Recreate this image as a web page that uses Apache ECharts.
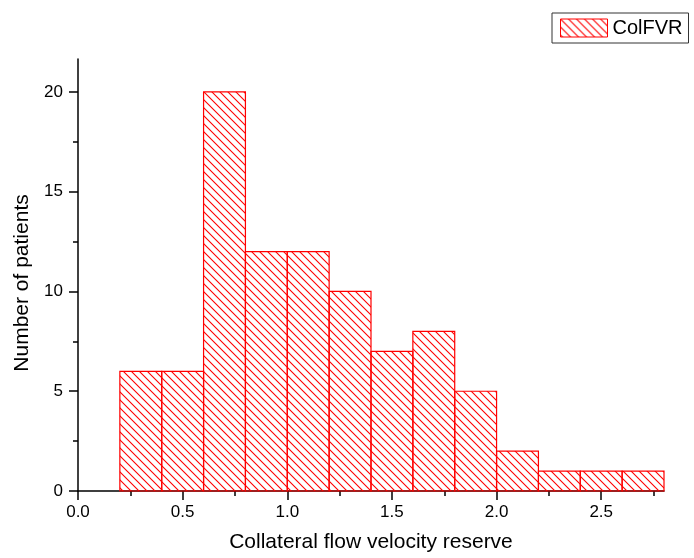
<!DOCTYPE html>
<html>
<head>
<meta charset="utf-8">
<script src="https://cdn.jsdelivr.net/npm/echarts@6/dist/echarts.min.js"></script>
<style>
html,body{margin:0;padding:0;background:#fff;}
#chart{width:694px;height:558px;}
</style>
</head>
<body>
<div id="chart"></div>
<script>
// Data
const binEdges = [0.2, 0.4, 0.6, 0.8, 1.0, 1.2, 1.4, 1.6, 1.8, 2.0, 2.2, 2.4, 2.6, 2.8];
const counts = [6, 6, 20, 12, 12, 10, 7, 8, 5, 2, 1, 1, 1];
const xTickValues = [0, 0.5, 1.0, 1.5, 2.0, 2.5];
const xMinorTickValues = [0.25, 0.75, 1.25, 1.75, 2.25, 2.75];
const yTickValues = [0, 5, 10, 15, 20];
const yMinorTickValues = [2.5, 7.5, 12.5, 17.5];
const seriesName = 'ColFVR';
const xTitle = 'Collateral flow velocity reserve';
const yTitle = 'Number of patients';

// Hatch pattern (diagonal "\\" lines)
function makeHatch() {
  const s = 8;
  const c = document.createElement('canvas');
  c.width = s; c.height = s;
  const ctx = c.getContext('2d');
  ctx.strokeStyle = '#ff0000';
  ctx.lineWidth = 1.1;
  ctx.beginPath();
  ctx.moveTo(-1, -1); ctx.lineTo(s + 1, s + 1);
  ctx.moveTo(-1, s - 1); ctx.lineTo(1, s + 1);
  ctx.moveTo(s - 1, -1); ctx.lineTo(s + 1, 1);
  ctx.stroke();
  return c;
}
const hatch = { image: makeHatch(), repeat: 'repeat' };

const histData = counts.map((v, i) => [binEdges[i], binEdges[i + 1], v]);

const chart = echarts.init(document.getElementById('chart'), null, { renderer: 'canvas' });
const font = "'Liberation Sans', Arial, sans-serif";

chart.setOption({
  animation: false,
  backgroundColor: '#fff',
  grid: { left: 78, right: 30, top: 59, bottom: 66, containLabel: false },
  legend: {
    data: [{ name: seriesName, icon: 'rect' }],
    left: 552, top: 13,
    padding: [5, 6, 5, 8],
    borderColor: '#333', borderWidth: 1,
    itemWidth: 47, itemHeight: 18, itemGap: 5,
    itemStyle: { color: hatch, borderColor: '#ff0000', borderWidth: 1 },
    textStyle: { fontFamily: font, fontSize: 20, color: '#000' }
  },
  xAxis: [{
    type: 'value', min: 0, max: 2.8,
    name: xTitle, nameLocation: 'middle', nameGap: 41,
    nameTextStyle: { fontFamily: font, fontSize: 21, color: '#000' },
    axisLine: { show: true, onZero: false, lineStyle: { color: '#000', width: 1.5 } },
    axisTick: { show: true, inside: false, length: 9, customValues: xTickValues, lineStyle: { color: '#000', width: 1.5 } },
    axisLabel: { customValues: xTickValues, margin: 13, fontFamily: font, fontSize: 17, color: '#000',
      formatter: v => Number(v).toFixed(1) },
    splitLine: { show: false }
  }, {
    type: 'value', min: 0, max: 2.8, position: 'bottom',
    axisLine: { show: false },
    axisTick: { show: true, length: 5, customValues: xMinorTickValues, lineStyle: { color: '#000', width: 1.5 } },
    axisLabel: { show: false },
    splitLine: { show: false }
  }],
  yAxis: [{
    type: 'value', min: 0, max: 21.65,
    name: yTitle, nameLocation: 'middle', nameGap: 44,
    nameTextStyle: { fontFamily: font, fontSize: 21, color: '#000', padding: [0, 16, 0, 0] },
    axisLine: { show: true, onZero: false, lineStyle: { color: '#000', width: 1.5 } },
    axisTick: { show: true, inside: false, length: 9, customValues: yTickValues, lineStyle: { color: '#000', width: 1.5 } },
    axisLabel: { customValues: yTickValues, margin: 15, fontFamily: font, fontSize: 17, color: '#000' },
    splitLine: { show: false }
  }, {
    type: 'value', min: 0, max: 21.65, position: 'left',
    axisLine: { show: false },
    axisTick: { show: true, length: 5, customValues: yMinorTickValues, lineStyle: { color: '#000', width: 1.5 } },
    axisLabel: { show: false },
    splitLine: { show: false }
  }],
  series: [{
    name: seriesName,
    type: 'custom',
    xAxisIndex: 0, yAxisIndex: 0,
    itemStyle: { color: hatch, borderColor: '#ff0000', borderWidth: 1 },
    encode: { x: [0, 1], y: 2 },
    data: histData,
    renderItem: function (params, api) {
      const p0 = api.coord([api.value(0), api.value(2)]);
      const p1 = api.coord([api.value(1), 0]);
      return {
        type: 'rect',
        shape: { x: p0[0], y: p0[1], width: p1[0] - p0[0], height: p1[1] - p0[1] },
        style: { fill: hatch, stroke: '#ff0000', lineWidth: 1.2 }
      };
    }
  }]
});
</script>
</body>
</html>
